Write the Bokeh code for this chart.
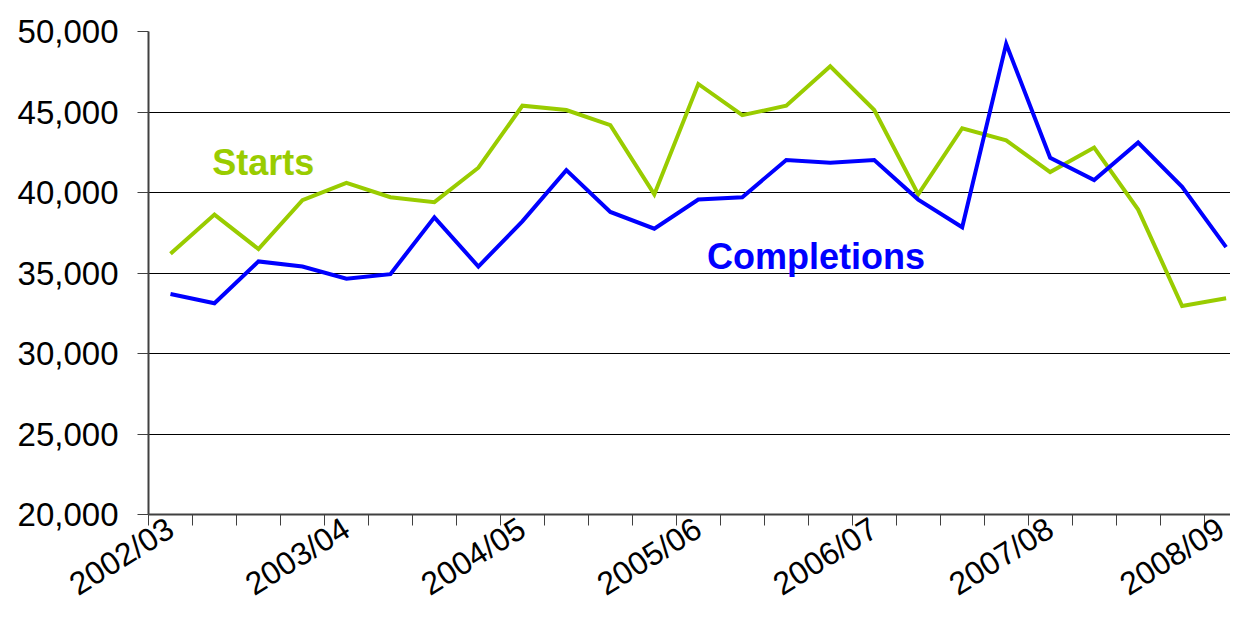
import math
from bokeh.plotting import figure
from bokeh.models import (Range1d, FixedTicker, NumeralTickFormatter, Label, Grid, LinearAxis)
from bokeh.embed import file_html
from bokeh.resources import INLINE

# ---- data ----
year_labels = ["2002/03", "2003/04", "2004/05", "2005/06", "2006/07", "2007/08", "2008/09"]
starts = [36200, 38630, 36490, 39520, 40600, 39710, 39400, 41540, 45390, 45120,
          44180, 39880, 46740, 44800, 45390, 47840, 45120, 39880, 43990, 43240,
          41270, 42790, 38940, 32950, 33430]
completions = [33700, 33120, 35720, 35400, 34640, 34930, 38460, 35400, 38210, 41390,
               38790, 37750, 39560, 39710, 42020, 41850, 42020, 39560, 37840, 49230,
               42160, 40770, 43100, 40350, 36610]
y_ticks = [20000, 25000, 30000, 35000, 40000, 45000, 50000]

n = len(starts)
xs = list(range(n))
label_pos = list(range(0, n, 4))

GREEN = "#99CC00"
BLUE = "#0000FF"
FONT = "Liberation Sans"

p = figure(width=1230, height=620, output_backend="svg", toolbar_location=None,
           x_range=Range1d(-0.5, 24.1), y_range=Range1d(20000, 50000),
           min_border_left=148, min_border_top=31, min_border_bottom=105,
           min_border_right=0, x_axis_type=None)
p.outline_line_color = None
p.background_fill_color = "white"
p.border_fill_color = "white"

# y axis
ya = p.yaxis[0]
ya.ticker = FixedTicker(ticks=y_ticks)
ya.formatter = NumeralTickFormatter(format="0,0")
ya.major_label_text_font = FONT
ya.major_label_text_font_size = "33px"
ya.major_label_text_color = "black"
ya.major_label_standoff = 19
ya.major_tick_out = 11
ya.major_tick_in = 0
ya.minor_tick_out = 0
ya.minor_tick_in = 0
ya.axis_line_color = "#404040"
ya.axis_line_width = 2
ya.major_tick_line_color = "#404040"
ya.major_tick_line_width = 1

# x axis
xa = LinearAxis(ticker=FixedTicker(ticks=label_pos,
                                   minor_ticks=[i - 0.5 for i in range(n + 1)]))
xa.major_label_overrides = {pos: lab for pos, lab in zip(label_pos, year_labels)}
xa.major_label_orientation = math.radians(32)
xa.major_label_text_font = FONT
xa.major_label_text_font_size = "32px"
xa.major_label_text_color = "black"
xa.major_label_standoff = 0
xa.major_tick_out = 0
xa.major_tick_in = 0
xa.minor_tick_out = 11
xa.minor_tick_in = 0
xa.minor_tick_line_color = "#404040"
xa.axis_line_color = "#404040"
xa.axis_line_width = 2
p.add_layout(xa, "below")

# grids
p.ygrid.ticker = FixedTicker(ticks=y_ticks[1:-1])
p.ygrid.grid_line_color = "black"
p.ygrid.grid_line_width = 1
top = Grid(dimension=1, ticker=FixedTicker(ticks=[y_ticks[-1]]),
           grid_line_color="#888888", grid_line_width=2)
p.add_layout(top)

# lines
p.line(xs, starts, line_color=GREEN, line_width=4, line_join="miter")
p.line(xs, completions, line_color=BLUE, line_width=4, line_join="miter")

# series labels
p.add_layout(Label(x=0.95, y=41880, text="Starts", text_color=GREEN,
                   text_font=FONT, text_font_size="36px", text_font_style="bold",
                   text_baseline="alphabetic"))
p.add_layout(Label(x=12.2, y=36000, text="Completions", text_color=BLUE,
                   text_font=FONT, text_font_size="36px", text_font_style="bold",
                   text_baseline="alphabetic"))

open("out.html", "w").write(file_html(p, INLINE))
